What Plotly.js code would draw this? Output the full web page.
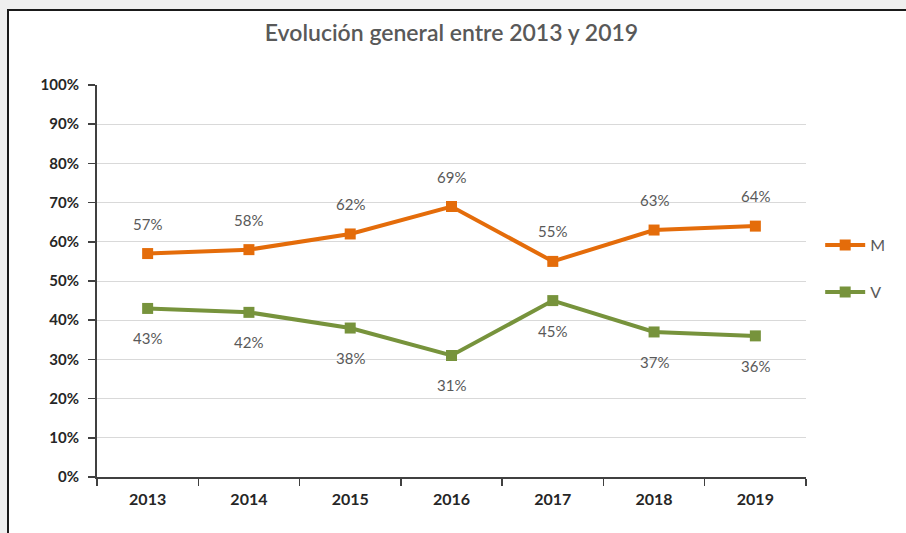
<!DOCTYPE html>
<html><head><meta charset="utf-8">
<script src="https://cdn.plot.ly/plotly-3.0.1.min.js"></script>
<style>
body{margin:0;background:#efefef;width:906px;height:533px;overflow:hidden;position:relative;}
#frame{position:absolute;left:7px;top:9px;width:920px;height:540px;border:2px solid #1a1a1a;background:#fff;}
#chart{position:absolute;left:9px;top:11px;width:897px;height:522px;}
</style></head>
<body><div id="frame"></div><div id="chart"></div>
<script>
const years = ['2013','2014','2015','2016','2017','2018','2019'];
const mValues = [0.57,0.58,0.62,0.69,0.55,0.63,0.64];
const vValues = [0.43,0.42,0.38,0.31,0.45,0.37,0.36];
const yTicks = [0,0.1,0.2,0.3,0.4,0.5,0.6,0.7,0.8,0.9,1.0];
const yTickLabels = ['0%','10%','20%','30%','40%','50%','60%','70%','80%','90%','100%'];

const orange = '#E46C0A', green = '#77933C';
const font = 'Lato, "Open Sans", sans-serif';

const traces = [
  {x: years, y: mValues, name: 'M', mode: 'lines+markers', legend: 'legend',
   line: {color: orange, width: 4}, marker: {symbol: 'square', size: 11, color: orange}},
  {x: years, y: vValues, name: 'V', mode: 'lines+markers', legend: 'legend2',
   line: {color: green, width: 4}, marker: {symbol: 'square', size: 11, color: green}}
];

const ann = [];
years.forEach((yr, i) => {
  ann.push({x: i, xref: 'x', y: mValues[i], yref: 'y', text: Math.round(mValues[i]*100)+'%', showarrow: false,
    yshift: 30, font: {family: font, size: 15, color: '#595959'}});
  ann.push({x: i, xref: 'x', y: vValues[i], yref: 'y', text: Math.round(vValues[i]*100)+'%', showarrow: false,
    yshift: -30, font: {family: font, size: 15, color: '#595959'}});
});

const layout = {
  width: 897, height: 522,
  margin: {l: 88, r: 100, t: 74, b: 56},
  paper_bgcolor: 'rgba(0,0,0,0)', plot_bgcolor: '#fff',
  title: {text: 'Evolución general entre 2013 y 2019', x: 0.5, xref: 'paper',
    y: 1 - 22/522, yref: 'container', yanchor: 'middle',
    font: {family: font, size: 23, color: '#595959', weight: 600}},
  xaxis: {type: 'category', range: [-0.5, 6.5], tickson: 'boundaries',
    ticks: 'outside', ticklen: 7, tickcolor: '#404040', tickwidth: 1.5,
    showline: true, linecolor: '#404040', linewidth: 2, showgrid: false,
    tickfont: {family: font, size: 16, color: '#262626', weight: 'bold'},
    ticklabelstandoff: 7, fixedrange: true},
  yaxis: {range: [0, 1], tickvals: yTicks, ticktext: yTickLabels,
    ticks: 'outside', ticklen: 7, tickcolor: '#404040', tickwidth: 1.5,
    showline: true, linecolor: '#404040', linewidth: 2,
    showgrid: true, gridcolor: '#d9d9d9', gridwidth: 1, zeroline: false,
    tickfont: {family: font, size: 15, color: '#262626', weight: 'bold'},
    ticklabelstandoff: 6, fixedrange: true},
  legend: {x: 1.02, xanchor: 'left', y: (477-245)/392, yanchor: 'middle',
    font: {family: font, size: 16, color: '#595959'}, itemwidth: 40, bgcolor: 'rgba(0,0,0,0)'},
  legend2: {x: 1.02, xanchor: 'left', y: (477-292)/392, yanchor: 'middle',
    font: {family: font, size: 16, color: '#595959'}, itemwidth: 40, bgcolor: 'rgba(0,0,0,0)'},
  annotations: ann,
  showlegend: true
};

Plotly.newPlot('chart', traces, layout, {displayModeBar: false, staticPlot: true});
</script></body></html>
